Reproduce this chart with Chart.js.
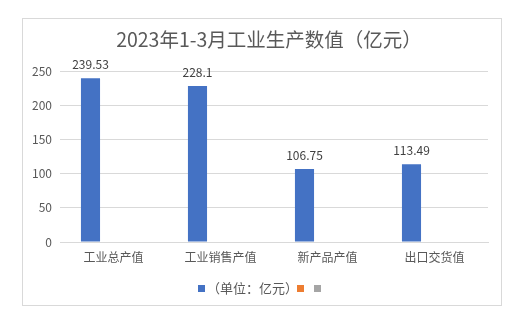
<!DOCTYPE html>
<html><head><meta charset="utf-8">
<script src="https://cdn.jsdelivr.net/npm/chart.js@4/dist/chart.umd.min.js"></script>
<style>html,body{margin:0;padding:0;background:#fff}#wrap{width:521px;height:325px;position:relative}</style>
</head><body><div id="wrap"><canvas id="c" width="521" height="325"></canvas></div>
<script>
const titleText = '2023年1-3月工业生产数值（亿元）';
const categories = ['工业总产值', '工业销售产值', '新产品产值', '出口交货值'];
const seriesValues = [239.53, 228.1, 106.75, 113.49];
const seriesLabel = '（单位：亿元）';
const emptySeries = [null, null, null, null];
const yTicks = [0, 50, 100, 150, 200, 250];
const seriesColors = ['#4472C4', '#ED7D31', '#A5A5A5'];
const FONT = '"Noto Sans CJK SC", "Noto Sans", sans-serif';

const framePlugin = {
  id: 'frame',
  beforeDraw(chart) {
    const ctx = chart.ctx;
    ctx.save();
    ctx.fillStyle = '#fff';
    ctx.fillRect(0, 0, chart.width, chart.height);
    ctx.strokeStyle = '#d9d9d9';
    ctx.lineWidth = 1;
    ctx.strokeRect(22.5, 18.5, 479, 287);
    ctx.fillStyle = '#595959';
    ctx.font = '19.5px ' + FONT;
    ctx.textAlign = 'center';
    ctx.textBaseline = 'middle';
    ctx.fillText(titleText, 269, 40);
    ctx.restore();
  },
  afterDatasetsDraw(chart) {
    const ctx = chart.ctx;
    const meta = chart.getDatasetMeta(0);
    ctx.save();
    ctx.fillStyle = '#404040';
    ctx.font = '12px ' + FONT;
    ctx.textAlign = 'center';
    ctx.textBaseline = 'middle';
    meta.data.forEach((bar, i) => {
      ctx.fillText(String(seriesValues[i]), bar.x, bar.y - 14);
    });
    ctx.restore();
  },
  afterDraw(chart) {
    // legend drawn from the datasets
    const ctx = chart.ctx;
    ctx.save();
    const y = 288.5;
    const ds = chart.data.datasets;
    const boxX = [198, 297, 314];
    ds.forEach((d, i) => {
      ctx.fillStyle = d.backgroundColor;
      ctx.fillRect(boxX[i], y - 3.5, 7, 7);
    });
    ctx.fillStyle = '#595959';
    ctx.font = '13px ' + FONT;
    ctx.textAlign = 'left';
    ctx.textBaseline = 'middle';
    ctx.fillText(ds[0].label, 207, y);
    ctx.restore();
  }
};

new Chart(document.getElementById('c'), {
  type: 'bar',
  data: {
    labels: categories,
    datasets: [
      { label: seriesLabel, data: seriesValues, backgroundColor: seriesColors[0] },
      { label: '', data: emptySeries, backgroundColor: seriesColors[1] },
      { label: '', data: emptySeries, backgroundColor: seriesColors[2] }
    ]
  },
  options: {
    responsive: false,
    animation: false,
    devicePixelRatio: 1,
    categoryPercentage: 0.645,
    barPercentage: 0.83,
    layout: { padding: { left: 22, right: 33, top: 71, bottom: 53 } },
    plugins: {
      title: { display: false },
      tooltip: { enabled: false },
      legend: { display: false }
    },
    scales: {
      x: {
        grid: { display: false, drawTicks: false },
        border: { display: true, color: '#d9d9d9' },
        ticks: { color: '#595959', font: { family: FONT, size: 12 }, padding: 8 },
        afterFit(s) { s.height = 30; }
      },
      y: {
        min: 0, max: 250,
        afterBuildTicks(s) { s.ticks = yTicks.map(v => ({ value: v })); },
        grid: { color: '#d9d9d9', drawTicks: false },
        border: { display: false },
        ticks: { color: '#595959', font: { family: FONT, size: 12 }, padding: 8 },
        afterFit(s) { s.width = 38; }
      }
    }
  },
  plugins: [framePlugin]
});
</script></body></html>
